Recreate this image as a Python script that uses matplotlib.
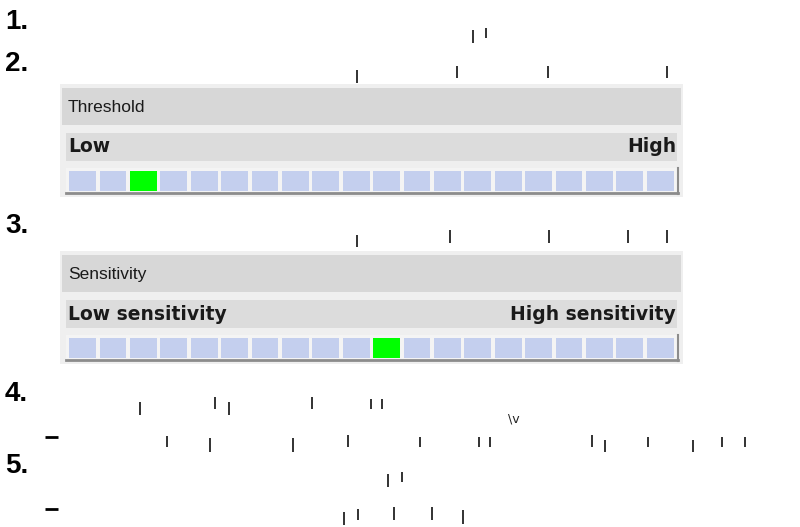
import matplotlib
matplotlib.use("Agg")
import matplotlib.pyplot as plt
from matplotlib.patches import Rectangle

# ---- data ----
step_labels = ["1.", "2.", "3.", "4.", "5."]
sub_markers = ["–", "–"]
n_cells = 20
threshold_title = "Threshold"
threshold_low, threshold_high = "Low", "High"
threshold_level = 3          # selected cell (1-based)
sensitivity_title = "Sensitivity"
sensitivity_low, sensitivity_high = "Low sensitivity", "High sensitivity"
sensitivity_level = 11       # selected cell (1-based)

# ---- layout (pixel coordinates) ----
W, H = 800, 527
step_baselines = [29, 71, 233, 401, 473]
sub_baselines = [437, 509]
widget_tops = [84, 251]

# fragments of unreadable text glyphs (x, y_top, y_bottom)
fragments = [
    (473, 30, 43), (486, 28, 38),
    (357, 70, 83), (457, 66, 78), (548, 66, 78), (667, 66, 78),
    (357, 235, 247), (450, 230, 243), (549, 230, 243), (628, 230, 243), (667, 230, 243),
    (140, 402, 415), (215, 397, 409), (229, 402, 415), (312, 397, 409), (371, 399, 409), (382, 399, 409),
    (167, 436, 447), (210, 438, 452), (293, 438, 452), (348, 435, 447), (420, 437, 447),
    (479, 437, 447), (490, 437, 447), (592, 435, 447), (605, 440, 452), (648, 437, 447),
    (693, 440, 452), (722, 437, 447), (745, 437, 447),
    (388, 474, 487), (402, 472, 482),
    (344, 512, 525), (358, 509, 520), (394, 507, 520), (432, 507, 520), (463, 510, 524),
]

fig = plt.figure(figsize=(W / 100, H / 100), dpi=100)
fig.patch.set_facecolor("white")
ax = fig.add_axes([0, 0, 1, 1])
ax.set_xlim(0, W)
ax.set_ylim(H, 0)
ax.axis("off")

# step numbers
for lab, yb in zip(step_labels, step_baselines):
    ax.text(5, yb, lab, fontsize=20, fontweight="bold", family="Liberation Sans",
            color="black", ha="left", va="baseline")
for yb in sub_baselines:
    ax.plot([45, 58], [yb, yb], color="black", lw=2, solid_capstyle="butt")

# glyph fragments
for x, y0, y1 in fragments:
    ax.plot([x, x], [y0, y1], color="#222222", lw=1.3, solid_capstyle="butt")
ax.text(508, 423, "\\v", fontsize=9, color="#222222", ha="left", va="baseline",
        family="DejaVu Sans")


def draw_widget(top, title, low, high, level):
    # outer panel
    ax.add_patch(Rectangle((60, top), 623, 113, facecolor="#efefef", edgecolor="none"))
    # header band
    ax.add_patch(Rectangle((62, top + 4), 619, 37, facecolor="#d7d7d7", edgecolor="none"))
    ax.text(68, top + 23, title, fontsize=12.5, family="Liberation Sans", color="#1a1a1a",
            ha="left", va="center")
    # low/high band
    ax.add_patch(Rectangle((66, top + 49), 611, 28, facecolor="#dcdcdc", edgecolor="none"))
    ax.text(68, top + 63, low, fontsize=13.5, fontweight="bold", family="DejaVu Sans",
            color="#1a1a1a", ha="left", va="center")
    ax.text(676, top + 63, high, fontsize=13.5, fontweight="bold", family="DejaVu Sans",
            color="#1a1a1a", ha="right", va="center")
    # slider frame
    ax.add_patch(Rectangle((66, top + 84), 612, 26, facecolor="#f4f4f4", edgecolor="none"))
    ax.plot([66, 678], [top + 109, top + 109], color="#8c8c8c", lw=2)
    ax.plot([677.5, 677.5], [top + 84, top + 110], color="#8c8c8c", lw=1.5)
    # slider cells drawn as bars in their own axes
    y_top = top + 87
    y_bot = top + 107
    sax = fig.add_axes([68 / W, 1 - y_bot / H, (676 - 68) / W, (y_bot - y_top) / H])
    sax.set_xlim(0, n_cells)
    sax.set_ylim(0, 1)
    sax.axis("off")
    idx = list(range(n_cells))
    colors = ["#00ff00" if i == level - 1 else "#c4cfee" for i in idx]
    sax.bar([i + 0.04 for i in idx], [1] * n_cells, width=0.88, align="edge",
            color=colors, edgecolor="none")


draw_widget(widget_tops[0], threshold_title, threshold_low, threshold_high, threshold_level)
draw_widget(widget_tops[1], sensitivity_title, sensitivity_low, sensitivity_high, sensitivity_level)

fig.savefig("out.png", dpi=100, facecolor="white")
